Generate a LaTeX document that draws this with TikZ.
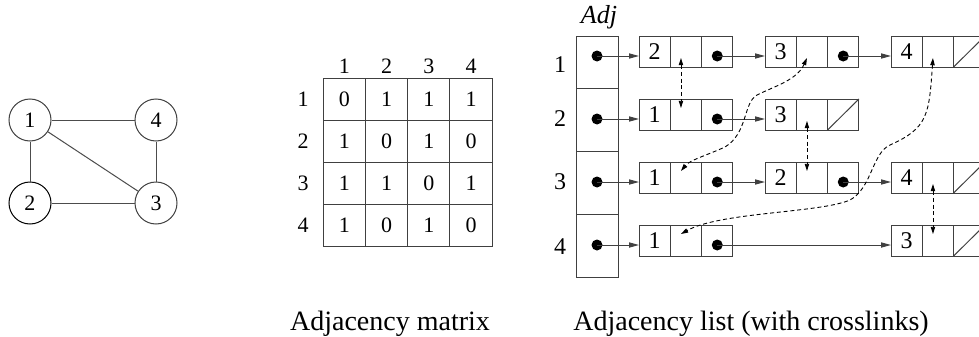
\documentclass[tikz,border=0pt]{standalone}
\usepackage{fontspec}
\setmainfont{Liberation Serif}
\usetikzlibrary{arrows.meta,positioning}

\tikzset{
  vtx/.style={circle, draw=black!75, line width=0.5pt, minimum size=21pt, inner sep=0pt},
  gedge/.style={draw=black!70, line width=0.5pt},
  mcell/.style={rectangle, draw=black!75, line width=0.5pt, minimum width=21.1pt, minimum height=21pt, inner sep=0pt, outer sep=0pt},
  acell/.style={rectangle, draw=black!75, line width=0.5pt, minimum width=21pt, inner sep=0pt, outer sep=0pt},
  lcell/.style={rectangle, draw=black!75, line width=0.5pt, minimum width=15.65pt, minimum height=15.5pt, inner sep=0pt, outer sep=0pt, font=\fontsize{12}{14}\selectfont},
  ptrdot/.style={circle, fill=black, minimum size=5.5pt, inner sep=0pt},
  ptr/.style={draw=black!75, line width=0.5pt, -{Triangle[length=5pt,width=2.6pt]}},
  xlink/.style={line width=0.45pt, dash pattern=on 2pt off 1.4pt, {Triangle[length=3.6pt,width=2.2pt]}-{Triangle[length=3.6pt,width=2.2pt]}},
  caption/.style={font=\fontsize{14}{16}\selectfont, anchor=base},
}

% one list element: key, crosslink and next cells
\newcommand{\lelem}[4]{%
  \node[lcell] (#1k) at (#2+15.65,#3+15.5) {#4};
  \node[lcell, right=0pt of #1k] (#1m) {};
  \node[lcell, right=0pt of #1m] (#1n) {};
}

\begin{document}
\begin{tikzpicture}[x=0.5pt, y=-0.5pt, font=\fontsize{11}{13}\selectfont]
\useasboundingbox (0,0) rectangle (979,337);

% graph
\node[vtx] (v1) at (30,120) {1};
\node[vtx] (v4) at (156,120) {4};
\node[vtx, draw=black] (v2) at (30,203) {2};
\node[vtx] (v3) at (156,203) {3};
\draw[gedge] (v1) -- (v4);
\draw[gedge] (v1) -- (v2);
\draw[gedge] (v2) -- (v3);
\draw[gedge] (v4) -- (v3);
\draw[gedge] (v1) -- (v3);

% adjacency matrix
\foreach \c in {1,...,4}
  \node (mh\c) at (302+42.25*\c,66) {\c};
\foreach \r/\vals in {1/{0,1,1,1},2/{1,0,1,0},3/{1,1,0,1},4/{1,0,1,0}} {
  \node (mr\r) at (303,57+42*\r) {\r};
  \foreach \v [count=\c] in \vals
    \node[mcell] (m\r\c) at (302+42.25*\c,57+42*\r) {\v};
}
\node[caption] (capm) at (390,330) {Adjacency matrix};

% adjacency list
\node[font=\fontsize{13}{15}\selectfont] (adjlbl) at (599,17) {\textit{Adj}};
\node[acell, minimum height=26pt] (adj1) at (597,62) {};
\node[acell, minimum height=31.5pt] (adj2) at (597,119.5) {};
\node[acell, minimum height=31.5pt] (adj3) at (597,182.5) {};
\node[acell, minimum height=31.5pt] (adj4) at (597,245.5) {};
\node[font=\fontsize{12}{14}\selectfont] (al1) at (560,65) {1};
\node[font=\fontsize{12}{14}\selectfont] (al2) at (560,119) {2};
\node[font=\fontsize{12}{14}\selectfont] (al3) at (560,182) {3};
\node[font=\fontsize{12}{14}\selectfont] (al4) at (560,247) {4};

\lelem{r1a}{639}{36}{2}
\lelem{r1b}{765}{36}{3}
\lelem{r1c}{891}{36}{4}
\lelem{r2a}{639}{99}{1}
\lelem{r2b}{765}{99}{3}
\lelem{r3a}{639}{162}{1}
\lelem{r3b}{765}{162}{2}
\lelem{r3c}{891}{162}{4}
\lelem{r4a}{639}{225}{1}
\lelem{r4b}{891}{225}{3}

% pointers
\foreach \e in {r1a,r1b,r2a,r3a,r3b,r4a}
  \node[ptrdot] (\e d) at ([yshift=-2.25pt]\e n.center) {};
\foreach \i/\e in {1/r1a,2/r2a,3/r3a,4/r4a}
  \node[ptrdot] (adj\i d) at (adj\i |- \e d) {};
\foreach \s/\t in {adj1/r1a,r1a/r1b,r1b/r1c,adj2/r2a,r2a/r2b,adj3/r3a,r3a/r3b,r3b/r3c,adj4/r4a,r4a/r4b}
  \draw[ptr] (\s d.center) -- (\s d -| \t k.west);

% nil pointers
\foreach \e in {r1c,r2b,r3c,r4b}
  \draw[black!75, line width=0.5pt] (\e n.south west) -- (\e n.north east);

% crosslinks
\foreach \u/\l in {r1a/r2a,r2b/r3b,r3c/r4b}
  \draw[xlink] ([shift={(-2.5pt,-3.25pt)}]\u m.center) -- ([shift={(-2.5pt,3.25pt)}]\l m.center);
\coordinate (xa) at ([shift={(-2.5pt,-3.25pt)}]r1bm.center);
\coordinate (xb) at ([shift={(-2.5pt,3.25pt)}]r3am.center);
\draw[xlink] (xa) .. controls (797,80) and (775,86) .. (757,95)
  .. controls (743,103) and (748,133) .. (725,147)
  .. controls (705,156) and (690,160) .. (xb);
\coordinate (xc) at ([shift={(-2.5pt,-3.25pt)}]r1cm.center);
\coordinate (xd) at ([shift={(-2.5pt,3.25pt)}]r4am.center);
\draw[xlink] (xc) .. controls (929,115) and (928,128) .. (890,145)
  .. controls (872,153) and (872,188) .. (850,200)
  .. controls (820,213) and (720,212) .. (xd);

\node[caption] (capl) at (751,330) {Adjacency list (with crosslinks)};
\end{tikzpicture}
\end{document}
